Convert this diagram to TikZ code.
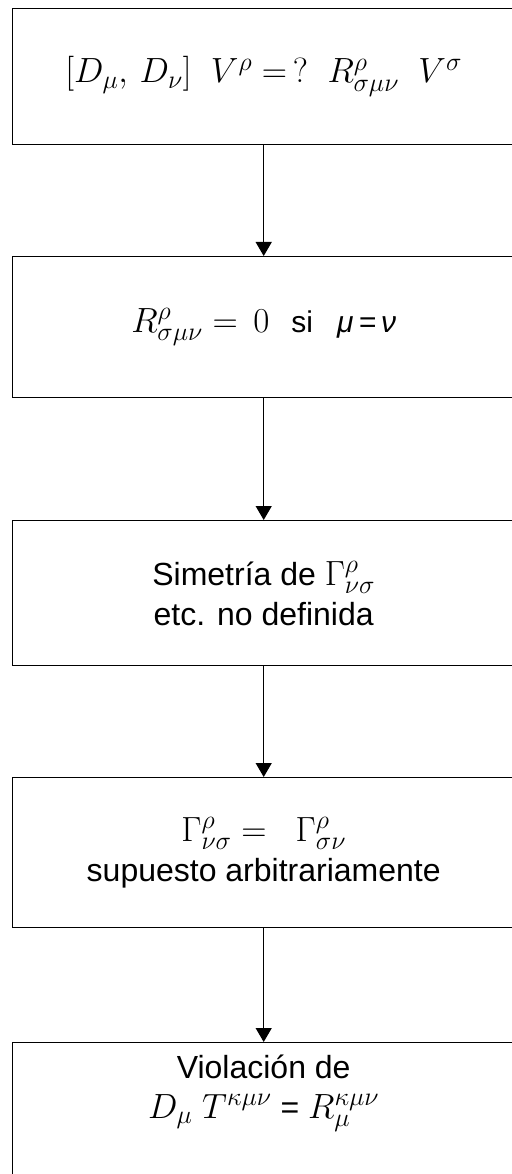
\documentclass[tikz,border=0pt]{standalone}
\usepackage{fix-cm}
\usepackage{amsmath}
\usepackage{fontspec}
\setmainfont{Liberation Sans}
\usetikzlibrary{arrows.meta,positioning}
\DeclareMathSizes{35}{35}{26}{20}

\tikzset{
  paso/.style={draw, line width=1.4pt, minimum width=502pt, inner xsep=0pt,
    align=center, anchor=north west, font=\fontsize{32}{40}\selectfont},
  flecha/.style={-{Triangle[length=14pt,width=16pt]}, line width=1.2pt},
}
\newcommand{\chico}{\fontsize{30}{40}\selectfont}
\newcommand{\mat}[1]{{\fontsize{35}{40}\selectfont$#1$}}

\begin{document}
\begin{tikzpicture}[x=1pt,y=-1pt]
\useasboundingbox (0,0) rectangle (511,1174);
\node[paso, minimum height=136pt] (conmut) at (12,8)
  {\mat{[D_\mu,\, D_\nu]\ \ V^\rho = \,?\ \ R^\rho_{\sigma\mu\nu}\ \ V^\sigma}};
\node[paso, minimum height=141pt] (riemann) at (12,256)
  {\mat{R^\rho_{\sigma\mu\nu} = \,0}\hspace{22pt}{\chico si\hspace{24pt}\textit{μ\,=\,ν}}};
\node[paso, minimum height=145pt] (simetria) at (12,520)
  {Simetría de \mat{\Gamma^\rho_{\nu\sigma}}\\ etc. no definida};
\node[paso, minimum height=150pt] (christ) at (12,777)
  {\mat{\Gamma^\rho_{\nu\sigma} =\ \ \Gamma^\rho_{\sigma\nu}}\\ supuesto arbitrariamente};
\node[paso, inner ysep=12pt, text depth=150pt] (violacion) at (12,1042)
  {Violación de\\ \mat{D_\mu\ T^{\kappa\mu\nu}} = \mat{R^{\kappa\mu\nu}_\mu}};
% flechas entre cajas
\draw[flecha] (conmut.south) -- (riemann.north);
\draw[flecha] (riemann.south) -- (simetria.north);
\draw[flecha] (simetria.south) -- (christ.north);
\draw[flecha] (christ.south) -- (violacion.north);
\end{tikzpicture}
\end{document}
